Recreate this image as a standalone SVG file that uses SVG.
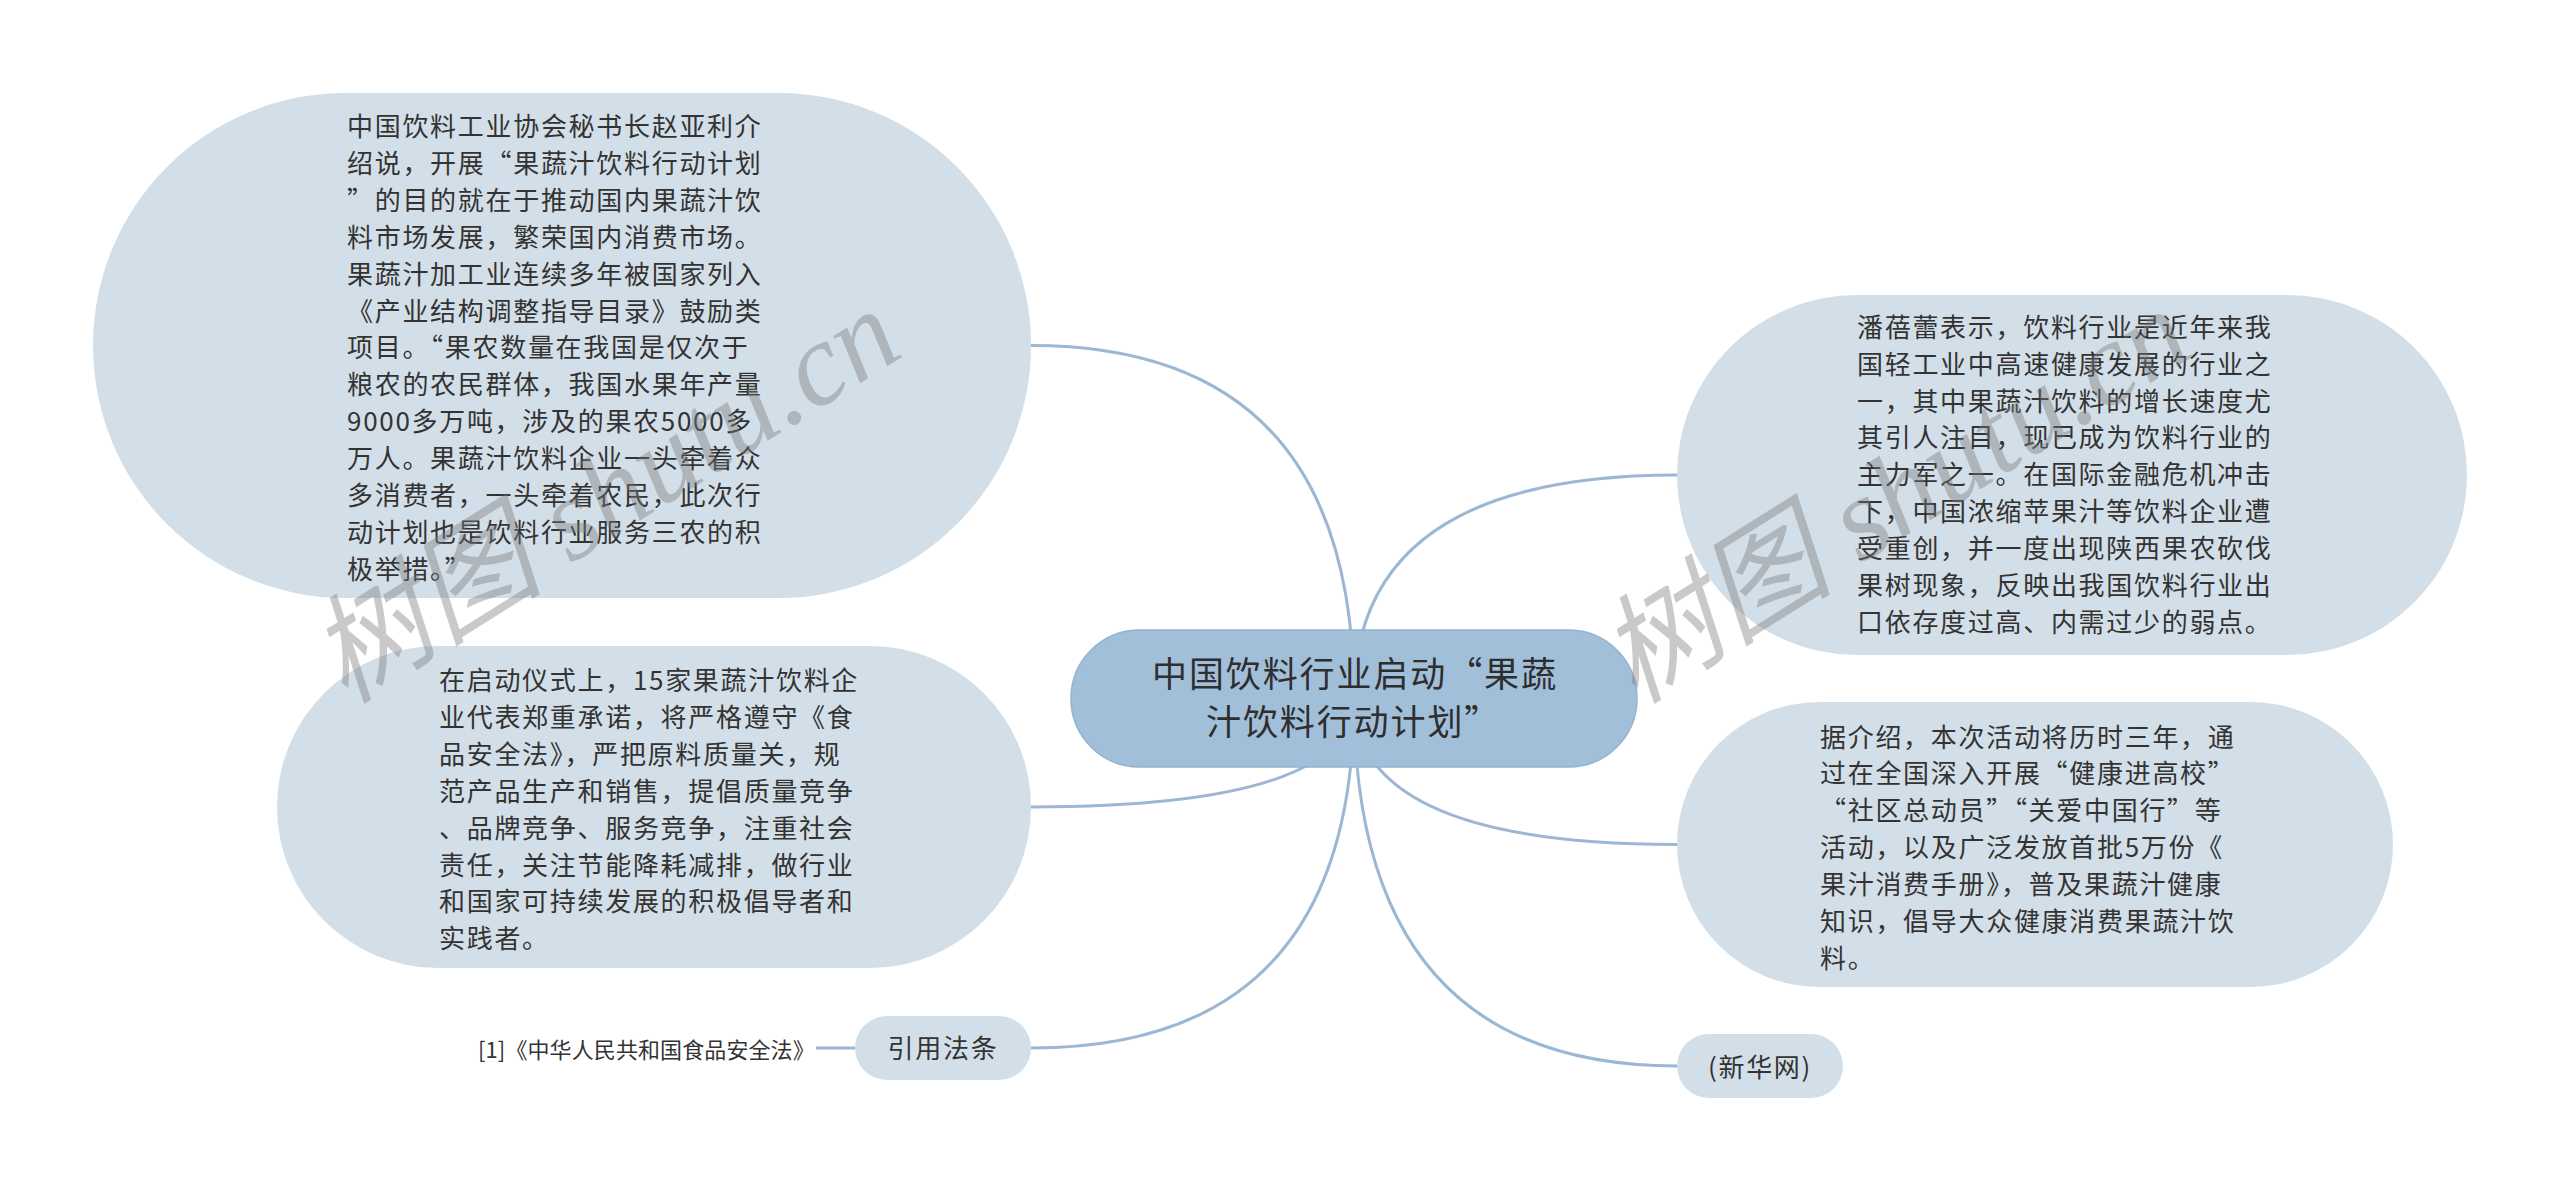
<svg xmlns="http://www.w3.org/2000/svg" width="2560" height="1191" viewBox="0 0 2560 1191">
<style>
.node{fill:#d3dfe8;}
.root{fill:#a2bfda;stroke:#93b3d1;stroke-width:1.5;}
.t{font-family:"Noto Sans CJK SC","Microsoft YaHei",sans-serif;font-size:26px;letter-spacing:1.7px;fill:#333333;}
.rt{font-family:"Noto Sans CJK SC","Microsoft YaHei",sans-serif;font-size:35px;letter-spacing:1.9px;fill:#2e2e2e;}
.leaf{font-family:"Noto Sans CJK SC","Microsoft YaHei",sans-serif;font-size:22px;letter-spacing:0.1px;fill:#333333;}
.edge{fill:none;stroke:#9bb7d3;stroke-width:3;}
.wm{font-family:"Liberation Serif","Noto Sans CJK SC",serif;font-style:italic;font-size:118px;fill:#7a7a7a;opacity:0.4;}
</style>
<rect width="2560" height="1191" fill="#ffffff"/>
<g id="connectors">
<path class="edge" d="M1354,698.5 Q1354,345.5 1031,345.5"/>
<path class="edge" d="M1354,698.5 Q1354,807 1031,807"/>
<path class="edge" d="M1354,698.5 Q1354,1048 1031,1048"/>
<path class="edge" d="M1354,698.5 Q1354,475 1677,475"/>
<path class="edge" d="M1354,698.5 Q1354,844.5 1677,844.5"/>
<path class="edge" d="M1354,698.5 Q1354,1066 1677,1066"/>
<path class="edge" d="M816,1048 L855,1048"/>
</g>
<g id="node-root">
<rect class="root" x="1071" y="630" width="566" height="137" rx="68.5" ry="68.5"/>
<text class="rt"><tspan x="1152" y="687">中国饮料行业启动“果蔬</tspan><tspan x="1206" y="735">汁饮料行动计划”</tspan></text>
</g>
<g id="node-zhao">
<rect class="node" x="93" y="93" width="938" height="505" rx="252.5" ry="252.5"/>
<text class="t">
<tspan x="347" y="136">中国饮料工业协会秘书长赵亚利介</tspan>
<tspan x="347" y="172.9">绍说，开展“果蔬汁饮料行动计划</tspan>
<tspan x="347" y="209.8">”的目的就在于推动国内果蔬汁饮</tspan>
<tspan x="347" y="246.7">料市场发展，繁荣国内消费市场。</tspan>
<tspan x="347" y="283.6">果蔬汁加工业连续多年被国家列入</tspan>
<tspan x="347" y="320.5">《产业结构调整指导目录》鼓励类</tspan>
<tspan x="347" y="357.4">项目。“果农数量在我国是仅次于</tspan>
<tspan x="347" y="394.3">粮农的农民群体，我国水果年产量</tspan>
<tspan x="347" y="431.2">9000多万吨，涉及的果农5000多</tspan>
<tspan x="347" y="468.1">万人。果蔬汁饮料企业一头牵着众</tspan>
<tspan x="347" y="505">多消费者，一头牵着农民，此次行</tspan>
<tspan x="347" y="541.9">动计划也是饮料行业服务三农的积</tspan>
<tspan x="347" y="578.8">极举措。”</tspan>
</text>
</g>
<g id="node-qidong">
<rect class="node" x="277" y="646" width="754" height="322" rx="161" ry="161"/>
<text class="t">
<tspan x="439" y="690">在启动仪式上，15家果蔬汁饮料企</tspan>
<tspan x="439" y="726.9">业代表郑重承诺，将严格遵守《食</tspan>
<tspan x="439" y="763.8">品安全法》，严把原料质量关，规</tspan>
<tspan x="439" y="800.7">范产品生产和销售，提倡质量竞争</tspan>
<tspan x="439" y="837.6">、品牌竞争、服务竞争，注重社会</tspan>
<tspan x="439" y="874.5">责任，关注节能降耗减排，做行业</tspan>
<tspan x="439" y="911.4">和国家可持续发展的积极倡导者和</tspan>
<tspan x="439" y="948.3">实践者。</tspan>
</text>
</g>
<g id="node-yinyong">
<rect class="node" x="855" y="1016" width="176" height="64" rx="32" ry="32"/>
<text class="t" x="943" y="1058" text-anchor="middle">引用法条</text>
</g>
<g id="node-falv">
<text class="leaf" x="478" y="1058">[1]《中华人民共和国食品安全法》</text>
</g>
<g id="node-pan">
<rect class="node" x="1677" y="295" width="790" height="360" rx="180" ry="180"/>
<text class="t">
<tspan x="1857" y="336.7">潘蓓蕾表示，饮料行业是近年来我</tspan>
<tspan x="1857" y="373.6">国轻工业中高速健康发展的行业之</tspan>
<tspan x="1857" y="410.5">一，其中果蔬汁饮料的增长速度尤</tspan>
<tspan x="1857" y="447.4">其引人注目，现已成为饮料行业的</tspan>
<tspan x="1857" y="484.3">主力军之一。在国际金融危机冲击</tspan>
<tspan x="1857" y="521.2">下，中国浓缩苹果汁等饮料企业遭</tspan>
<tspan x="1857" y="558.1">受重创，并一度出现陕西果农砍伐</tspan>
<tspan x="1857" y="595">果树现象，反映出我国饮料行业出</tspan>
<tspan x="1857" y="631.9">口依存度过高、内需过少的弱点。</tspan>
</text>
</g>
<g id="node-jieshao">
<rect class="node" x="1677" y="702" width="716" height="285" rx="142.5" ry="142.5"/>
<text class="t">
<tspan x="1820" y="746.5">据介绍，本次活动将历时三年，通</tspan>
<tspan x="1820" y="783.4">过在全国深入开展“健康进高校”</tspan>
<tspan x="1820" y="820.3">“社区总动员”“关爱中国行”等</tspan>
<tspan x="1820" y="857.2">活动，以及广泛发放首批5万份《</tspan>
<tspan x="1820" y="894.1">果汁消费手册》，普及果蔬汁健康</tspan>
<tspan x="1820" y="931">知识，倡导大众健康消费果蔬汁饮</tspan>
<tspan x="1820" y="967.9">料。</tspan>
</text>
</g>
<g id="node-xinhua">
<rect class="node" x="1677" y="1034" width="166" height="64" rx="32" ry="32"/>
<text class="t" x="1760" y="1076.5" text-anchor="middle">(新华网)</text>
</g>
<g id="watermark">
<text class="wm" x="345" y="705" transform="rotate(-32 345 705)">树图 shutu.cn</text>
<text class="wm" x="1635" y="705" transform="rotate(-32 1635 705)">树图 shutu.cn</text>
</g>
</svg>
